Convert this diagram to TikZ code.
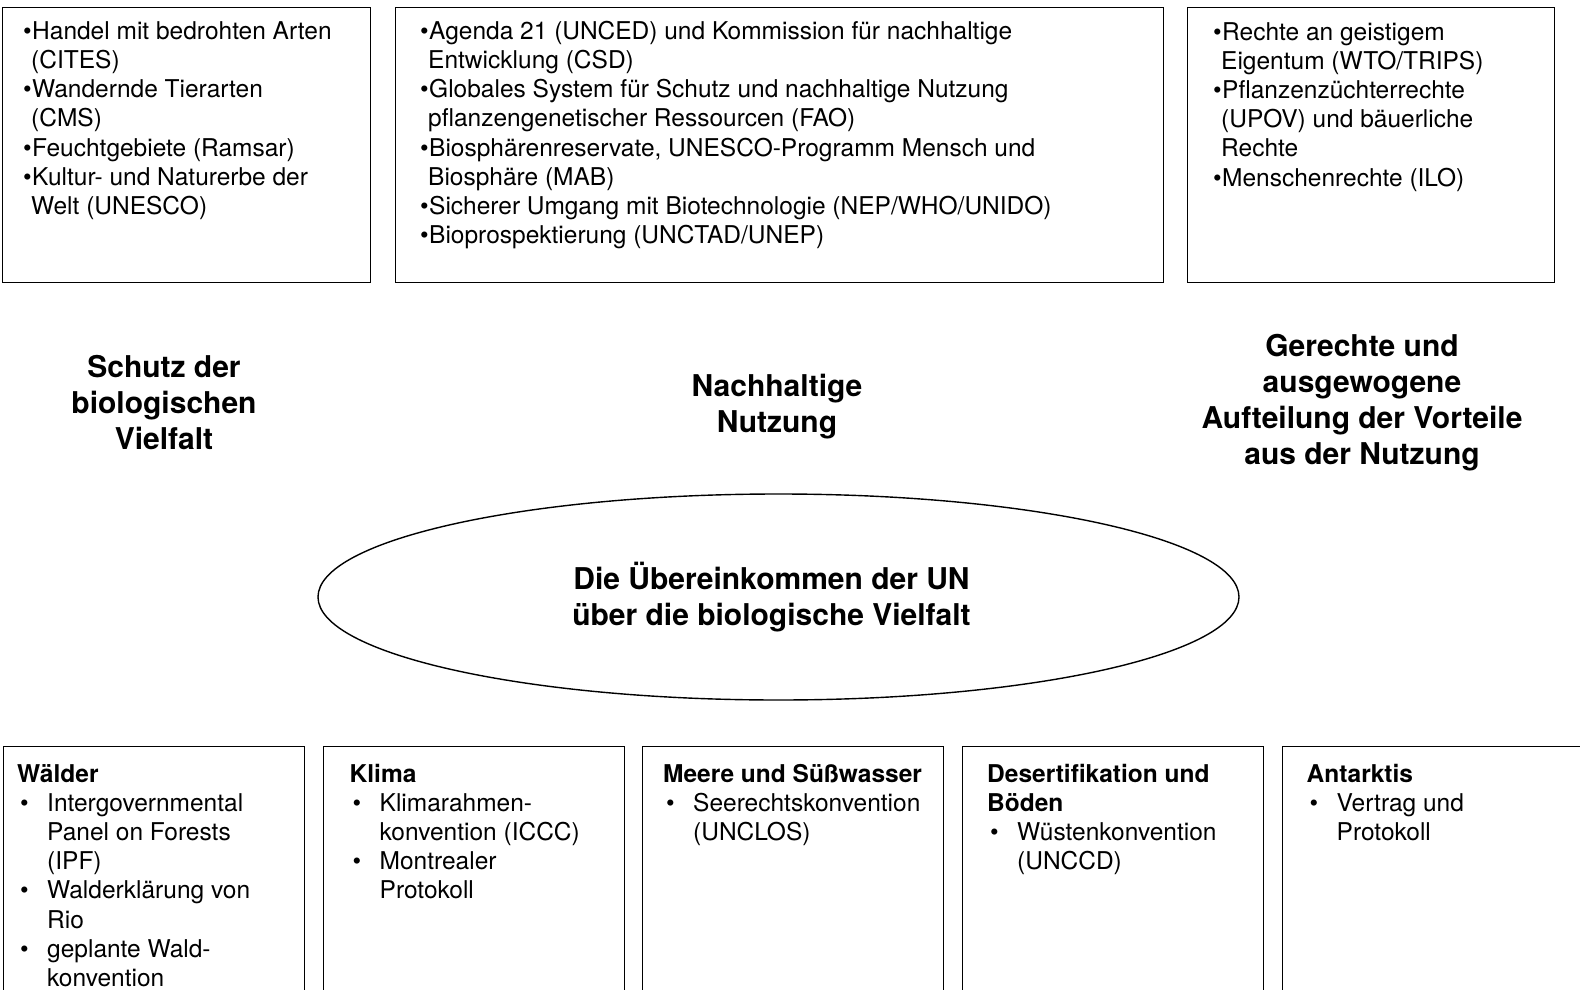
\documentclass[tikz,border=0pt]{standalone}
\usepackage{fontspec}
\setmainfont{TeX Gyre Heros}
\usetikzlibrary{positioning,shapes.geometric}

\newcommand{\obpkt}{\strut\hspace*{2pt}\makebox[9pt][l]{\textbullet}}
\newcommand{\obein}{\hspace*{10pt}}
\newcommand{\unpkt}{\hspace*{3pt}\makebox[27pt][l]{\textbullet}}
\newcommand{\unein}{\hspace*{30pt}}

\begin{document}
\begin{tikzpicture}[x=1pt,y=-1pt,
  kasten/.style={draw,line width=1.4pt,anchor=north west,inner sep=0pt},
  liste/.style={anchor=north west,align=left,inner sep=0pt,
    font=\fontsize{24.5}{29.2}\selectfont},
  ziel/.style={align=center,inner sep=0pt,
    font=\fontsize{30}{36}\selectfont\bfseries}]
\useasboundingbox (0,0) rectangle (1580,990);
\clip (0,0) rectangle (1580,990);

% obere Kaesten
\node[kasten,minimum width=368pt,minimum height=275pt] (artbox) at (2,7) {};
\node[kasten,minimum width=768pt,minimum height=275pt] (nutzbox) at (395,7) {};
\node[kasten,minimum width=367pt,minimum height=275pt] (rechtbox) at (1187,7) {};

\node[liste] (arttext) at (21,18.6) {\obpkt Handel mit bedrohten Arten\\
\obein (CITES)\\
\obpkt Wandernde Tierarten\\
\obein (CMS)\\
\obpkt Feuchtgebiete (Ramsar)\\
\obpkt Kultur- und Naturerbe der\\
\obein Welt (UNESCO)};

\node[liste] (nutztext) at (418,18.6) {\obpkt Agenda 21 (UNCED) und Kommission für nachhaltige\\
\obein Entwicklung (CSD)\\
\obpkt Globales System für Schutz und nachhaltige Nutzung\\
\obein pflanzengenetischer Ressourcen (FAO)\\
\obpkt Biosphärenreservate, UNESCO-Programm Mensch und\\
\obein Biosphäre (MAB)\\
\obpkt Sicherer Umgang mit Biotechnologie (NEP/WHO/UNIDO)\\
\obpkt Bioprospektierung (UNCTAD/UNEP)};

\node[liste] (rechttext) at (1211,19.5) {\obpkt Rechte an geistigem\\
\obein Eigentum (WTO/TRIPS)\\
\obpkt Pflanzenzüchterrechte\\
\obein (UPOV) und bäuerliche\\
\obein Rechte\\
\obpkt Menschenrechte (ILO)};

% Ziele
\node[ziel] (schutz) at (164,403) {Schutz der\\biologischen\\Vielfalt};
\node[ziel] (nutzung) at (777,407) {Nachhaltige\\Nutzung};
\node[ziel] (aufteilung) at (1362,403) {Gerechte und\\ausgewogene\\Aufteilung der Vorteile\\aus der Nutzung};

% Ellipse
\node[draw,ellipse,line width=1.4pt,minimum width=921pt,minimum height=206pt,inner sep=0pt] (abkommen) at (778.5,597) {};
\node[ziel] (abkommentext) at ([xshift=-7pt]abkommen.center) {Die Übereinkommen der UN\\über die biologische Vielfalt};

% untere Kaesten
\node[kasten,minimum width=301pt,minimum height=270pt] (wald) at (3,746) {};
\node[kasten,minimum width=301pt,minimum height=270pt] (klima) at (322.5,746) {};
\node[kasten,minimum width=301pt,minimum height=270pt] (meer) at (642,746) {};
\node[kasten,minimum width=301pt,minimum height=270pt] (boden) at (962,746) {};
\node[kasten,minimum width=330pt,minimum height=270pt] (antarktis) at (1282,746) {};

\node[liste] (waldtext) at (17,761.4) {\strut\textbf{Wälder}\\
\unpkt Intergovernmental\\
\unein Panel on Forests\\
\unein (IPF)\\
\unpkt Walderklärung von\\
\unein Rio\\
\unpkt geplante Wald-\\
\unein konvention};

\node[liste] (klimatext) at (349.5,761.4) {\strut\textbf{Klima}\\
\unpkt Klimarahmen-\\
\unein konvention (ICCC)\\
\unpkt Montrealer\\
\unein Protokoll};

\node[liste] (meertext) at (663,761.4) {\strut\textbf{Meere und Süßwasser}\\
\unpkt Seerechtskonvention\\
\unein (UNCLOS)};

\node[liste] (bodentext) at (987,761.4) {\strut\textbf{Desertifikation und}\\
\textbf{Böden}\\
\unpkt Wüstenkonvention\\
\unein (UNCCD)};

\node[liste] (antarktistext) at (1306.5,761.4) {\strut\textbf{Antarktis}\\
\unpkt Vertrag und\\
\unein Protokoll};
\end{tikzpicture}
\end{document}
